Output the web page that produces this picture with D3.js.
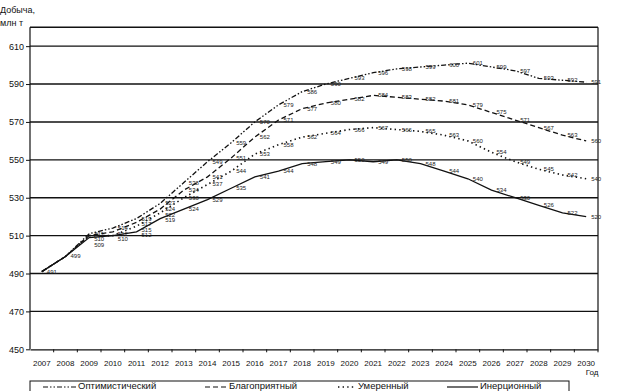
<!DOCTYPE html>
<html>
<head>
<meta charset="utf-8">
<script src="https://cdn.jsdelivr.net/npm/d3@7"></script>
<style>
  html, body { margin: 0; padding: 0; background: #fff; }
  svg { display: block; font-family: "Liberation Sans", Arial, sans-serif; }
  .axis text { fill: #111; }
  .axis line, .axis path { stroke: #111; }
</style>
</head>
<body>
<svg id="chart" width="620" height="391"></svg>
<script>
const years = d3.range(2007, 2031).map(String);
const yTicks = [450, 470, 490, 510, 530, 550, 570, 590, 610];

const optimistic = [491, 499, 511, 514, 519, 527, 538, 549, 559, 570, 579, 586, 590, 593, 596, 598, 599, 600, 601, 599, 597, 593, 592, 591];
const favorable = [491, 499, 510, 512, 517, 524, 534, 541, 551, 562, 571, 577, 580, 582, 584, 583, 582, 581, 579, 575, 571, 567, 563, 560];
const moderate = [491, 499, 510, 510, 515, 522, 530, 537, 544, 553, 558, 562, 564, 566, 567, 566, 565, 563, 560, 554, 549, 545, 542, 540];
const inertial = [491, 499, 509, 510, 512, 519, 524, 529, 535, 541, 544, 548, 549, 550, 549, 550, 548, 544, 540, 534, 530, 526, 522, 520];

const seriesNames = ['Оптимистический', 'Благоприятный', 'Умеренный', 'Инерционный'];
const seriesValues = [optimistic, favorable, moderate, inertial];
const dashes = ['5,2,1.5,2,1.5,2', '5,3', '1.4,3.2', null];

const svg = d3.select('#chart');
const plotLeft = 30, plotRight = 598, plotTop = 27.2, plotBottom = 349.3;

const x = d3.scaleBand().domain(years).range([plotLeft, plotRight]);
const y = d3.scaleLinear().domain([450, 620]).range([plotBottom, plotTop]);
const cx = (year) => x(year) + x.bandwidth() / 2;

// grid + frame
svg.append('g')
  .selectAll('line')
  .data(yTicks.slice(1).concat([620]))
  .join('line')
  .attr('x1', plotLeft).attr('x2', plotRight)
  .attr('y1', (d) => y(d)).attr('y2', (d) => y(d))
  .attr('stroke', '#111').attr('stroke-width', 1.4);
svg.append('line').attr('x1', plotRight).attr('x2', plotRight).attr('y1', plotTop).attr('y2', plotBottom).attr('stroke', '#111').attr('stroke-width', 1.2);

svg.append('g').attr('class', 'axis').attr('transform', `translate(${plotLeft},0)`)
  .call(d3.axisLeft(y).tickValues(yTicks).tickSize(4).tickSizeOuter(0).tickPadding(2))
  .call((g) => g.selectAll('text').attr('font-size', 9))
  .call((g) => g.select('.domain').attr('d', `M0,${plotTop}V${plotBottom}`).attr('stroke-width', 1.2));

svg.append('g').attr('class', 'axis').attr('transform', `translate(0,${plotBottom})`)
  .call(d3.axisBottom(x).tickSize(0).tickPadding(11))
  .call((g) => g.selectAll('text').attr('font-size', 8))
  .call((g) => g.select('.domain').attr('stroke-width', 1.2));

svg.append('g')
  .selectAll('line')
  .data(years.slice(1).concat(['end']))
  .join('line')
  .attr('x1', (d) => (d === 'end' ? plotRight : x(d))).attr('x2', (d) => (d === 'end' ? plotRight : x(d)))
  .attr('y1', plotBottom).attr('y2', plotBottom + 3)
  .attr('stroke', '#111');

// lines
const line = d3.line().x((d, i) => cx(years[i])).y((d) => y(d));
seriesValues.forEach((values, k) => {
  svg.append('path')
    .attr('d', line(values))
    .attr('fill', 'none')
    .attr('stroke', '#111')
    .attr('stroke-width', k === 2 ? 1.6 : 1.3)
    .attr('stroke-dasharray', dashes[k]);
});

// value labels, nudged apart where they crowd
const labels = [];
years.forEach((year, i) => {
  const seen = new Set();
  const group = [];
  seriesValues.forEach((values) => {
    if (seen.has(values[i])) return;
    seen.add(values[i]);
    group.push({ year, value: values[i], py: y(values[i]) });
  });
  group.sort((a, b) => a.py - b.py);
  for (let j = 1; j < group.length; j++) {
    if (group[j].py - group[j - 1].py < 5.5) group[j].py = group[j - 1].py + 5.5;
  }
  labels.push(...group);
});
svg.append('g')
  .selectAll('text')
  .data(labels)
  .join('text')
  .attr('x', (d) => cx(d.year) + 10)
  .attr('y', (d) => d.py + 2)
  .attr('text-anchor', 'middle')
  .attr('font-size', 6)
  .attr('fill', '#222')
  .text((d) => d.value);

// titles
svg.append('text').attr('x', 0).attr('y', 13).attr('font-size', 9).attr('fill', '#111').text('Добыча,');
svg.append('text').attr('x', 0).attr('y', 26).attr('font-size', 9).attr('fill', '#111').text('млн т');
svg.append('text').attr('x', 592).attr('y', 375).attr('text-anchor', 'middle').attr('font-size', 8).attr('fill', '#111').text('Год');

// legend
const legendX = [43, 205, 338, 447];
const legendLen = [33, 22, 18, 31];
svg.append('rect').attr('x', 30).attr('y', 381).attr('width', 539).attr('height', 20).attr('fill', 'none').attr('stroke', '#111');
seriesNames.forEach((name, k) => {
  svg.append('line')
    .attr('x1', legendX[k]).attr('x2', legendX[k] + legendLen[k])
    .attr('y1', 387).attr('y2', 387)
    .attr('stroke', '#111').attr('stroke-width', k === 2 ? 1.6 : 1.2)
    .attr('stroke-dasharray', dashes[k]);
  svg.append('text')
    .attr('x', legendX[k] + legendLen[k] + 2).attr('y', 389)
    .attr('font-size', 9.5).attr('fill', '#111')
    .text(name);
});
</script>
</body>
</html>
